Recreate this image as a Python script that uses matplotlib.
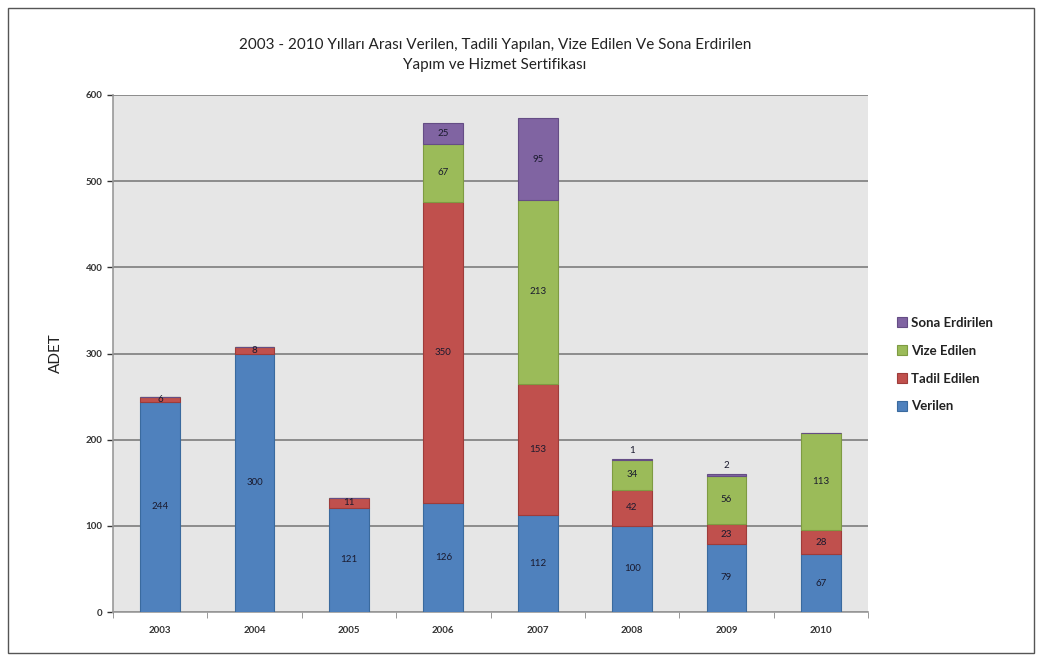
import matplotlib
matplotlib.use('Agg')
import matplotlib.pyplot as plt
from matplotlib.patches import Rectangle

years = ['2003', '2004', '2005', '2006', '2007', '2008', '2009', '2010']
verilen = [244, 300, 121, 126, 112, 100, 79, 67]
tadil = [6, 8, 11, 350, 153, 42, 23, 28]
vize = [0, 0, 0, 67, 213, 34, 56, 113]
sona = [0, 0, 0, 25, 95, 1, 2, 0]

series = [
    ('Verilen', verilen, '#4F81BD', '#3A6A9E'),
    ('Tadil Edilen', tadil, '#C0504D', '#9E3C3A'),
    ('Vize Edilen', vize, '#9BBB59', '#7E9B42'),
    ('Sona Erdirilen', sona, '#8064A2', '#654D85'),
]

plt.rcParams['font.family'] = ['Lato', 'DejaVu Sans']

fig = plt.figure(figsize=(10.42, 6.61), dpi=100)
ax = fig.add_axes([113 / 1042, 1 - 612 / 661, 755 / 1042, 517 / 661])
ax.set_facecolor('#E6E6E6')

x = list(range(len(years)))
bottom = [0] * len(years)
handles = []
for name, vals, color, edge in series:
    bars = ax.bar(x, vals, width=0.42, bottom=bottom, color=color,
                  edgecolor=edge, linewidth=0.8, label=name, zorder=3)
    handles.append(bars)
    for rect, v in zip(bars.patches, vals):
        if v == 0:
            continue
        cx = rect.get_x() + rect.get_width() / 2
        if v <= 2:
            cy = rect.get_y() + rect.get_height() + 5
            va = 'bottom'
        else:
            cy = rect.get_y() + rect.get_height() / 2
            va = 'center'
        ax.text(cx, cy, str(v), ha='center', va=va, fontsize=7,
                color='#1a1a2e', zorder=4)
    bottom = [b + v for b, v in zip(bottom, vals)]

ax.set_xlim(-0.5, len(years) - 0.5)
ax.set_ylim(0, 600)
ax.set_yticks(range(0, 601, 100))
ax.set_xticks(x)
ax.set_xticklabels(years, fontsize=7, fontweight='bold', color='#333333')
ax.tick_params(axis='y', labelsize=7, colors='#333333', length=4, width=1)
for lbl in ax.get_yticklabels():
    lbl.set_fontweight('bold')
ax.set_xticks([i + 0.5 for i in range(-1, len(years))], minor=True)
ax.tick_params(axis='x', which='major', length=0, pad=10)
ax.tick_params(axis='x', which='minor', length=4, color='#888888')
ax.grid(axis='y', color='#8C8C8C', linewidth=1.4, zorder=1)
for side in ['top', 'right']:
    ax.spines[side].set_visible(False)
ax.spines['left'].set_color('#999999')
ax.spines['bottom'].set_color('#999999')
ax.spines['left'].set_linewidth(1.2)
ax.spines['bottom'].set_linewidth(1.2)

ax.set_ylabel('ADET', fontsize=11, color='#222222', labelpad=16)

fig.text(0.475, 1 - 45 / 661, '2003 - 2010 Yılları Arası Verilen, Tadili Yapılan, Vize Edilen Ve Sona Erdirilen',
         ha='center', va='center', fontsize=11, color='#222222')
fig.text(0.475, 1 - 65 / 661, 'Yapım ve Hizmet Sertifikası',
         ha='center', va='center', fontsize=11, color='#222222')

leg = fig.legend(handles[::-1], [s[0] for s in series][::-1],
                 loc='upper left', bbox_to_anchor=(885 / 1042, 1 - 305 / 661),
                 frameon=False, fontsize=9.5, handlelength=0.8, handleheight=0.8,
                 handletextpad=0.3, labelspacing=1.2)
for t in leg.get_texts():
    t.set_fontweight('bold')
    t.set_color('#222222')

fig.patches.append(Rectangle((8 / 1042, 8 / 661), 1026 / 1042, 645 / 661,
                             transform=fig.transFigure, fill=False,
                             edgecolor='#555555', linewidth=1))

plt.savefig('out.png')
